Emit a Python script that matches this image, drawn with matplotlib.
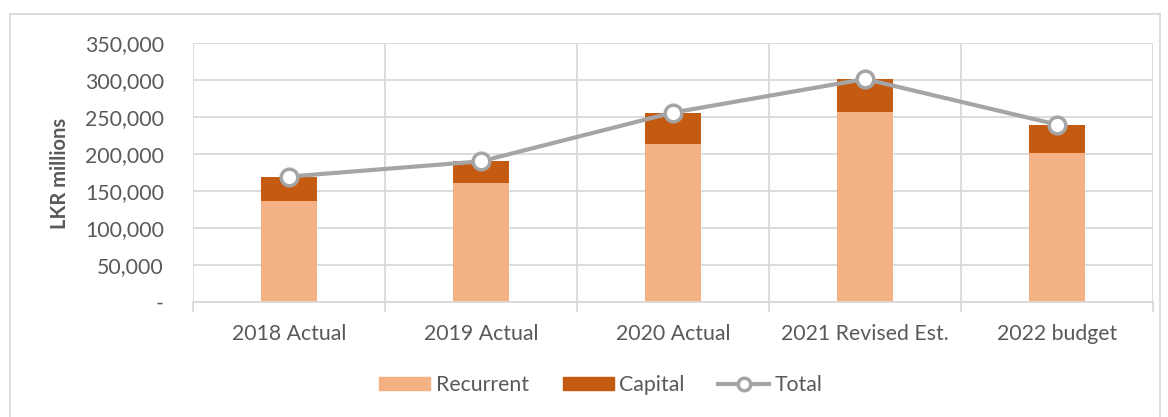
import matplotlib
matplotlib.use("Agg")
import matplotlib.pyplot as plt
from matplotlib.ticker import FuncFormatter, FixedLocator
from matplotlib.patches import Rectangle
from matplotlib.lines import Line2D
import numpy as np

categories = ["2018 Actual", "2019 Actual", "2020 Actual", "2021 Revised Est.", "2022 budget"]
recurrent = [136700, 161400, 213300, 256900, 202000]
capital = [32800, 28700, 42700, 44400, 37800]
total = [r + c for r, c in zip(recurrent, capital)]

plt.rcParams['font.family'] = ['Lato', 'DejaVu Sans']
TXT = "#595959"
GRID = "#d9d9d9"
C_REC = "#f4b183"
C_CAP = "#c55a11"
C_TOT = "#a5a5a5"
FS = 15.3

fig = plt.figure(figsize=(11.68, 4.17), dpi=100)
ax = fig.add_axes([193/1168, 1-302/417, (1153-193)/1168, (302-43)/417])

x = np.arange(len(categories))
w = 0.29
ax.bar(x, recurrent, width=w, color=C_REC, zorder=2, label="Recurrent")
ax.bar(x, capital, width=w, bottom=recurrent, color=C_CAP, zorder=2, label="Capital")
ax.plot(x, total, color=C_TOT, lw=3, marker="o", ms=12, mfc="white", mec=C_TOT, mew=2.5,
        zorder=3, label="Total")

ax.set_xlim(-0.5, len(categories) - 0.5)
ax.set_ylim(0, 350000)
ax.set_yticks(np.arange(0, 350001, 50000))
ax.yaxis.set_major_formatter(FuncFormatter(lambda v, p: "-" if v == 0 else f"{v:,.0f}"))
ax.tick_params(axis='y', length=0, pad=21, labelsize=FS, labelcolor=TXT)
ax.grid(axis='y', color=GRID, lw=1.3, zorder=0)

ax.xaxis.set_major_locator(FixedLocator(np.arange(-0.5, len(categories), 1.0)))
ax.xaxis.set_minor_locator(FixedLocator(x))
ax.set_xticklabels([], minor=False)
ax.set_xticklabels(categories, minor=True)
ax.tick_params(axis='x', which='major', length=7, color=GRID, width=1.3)
ax.tick_params(axis='x', which='minor', length=0, pad=16, labelsize=FS, labelcolor=TXT)
ax.grid(axis='x', which='major', color=GRID, lw=1.3, zorder=0)

for s in ["top", "right", "left"]:
    ax.spines[s].set_visible(False)
ax.spines["bottom"].set_color(GRID)
ax.spines["bottom"].set_linewidth(1.3)

fig.text(60/1168, 1-173/417, "LKR millions", rotation=90, ha="center", va="center",
         fontsize=14.5, fontweight="bold", color=TXT)

handles = [Rectangle((0, 0), 1, 1, color=C_REC), Rectangle((0, 0), 1, 1, color=C_CAP),
           Line2D([], [], color=C_TOT, lw=3, marker="o", ms=9, mfc="white", mec=C_TOT, mew=2.5)]
fig.legend(handles, ["Recurrent", "Capital", "Total"], loc="center", bbox_to_anchor=(601/1168, 1-385/417),
           ncol=3, frameon=False, fontsize=FS, labelcolor=TXT, handlelength=2.4, handleheight=0.6,
           columnspacing=1.6, handletextpad=0.25)

fig.patches.append(Rectangle((10/1168, -0.05), (1160-10)/1168, 1.05-14/417, transform=fig.transFigure,
                             fill=False, edgecolor=GRID, lw=1.3))

fig.savefig("out.png", dpi=100, facecolor="white")
